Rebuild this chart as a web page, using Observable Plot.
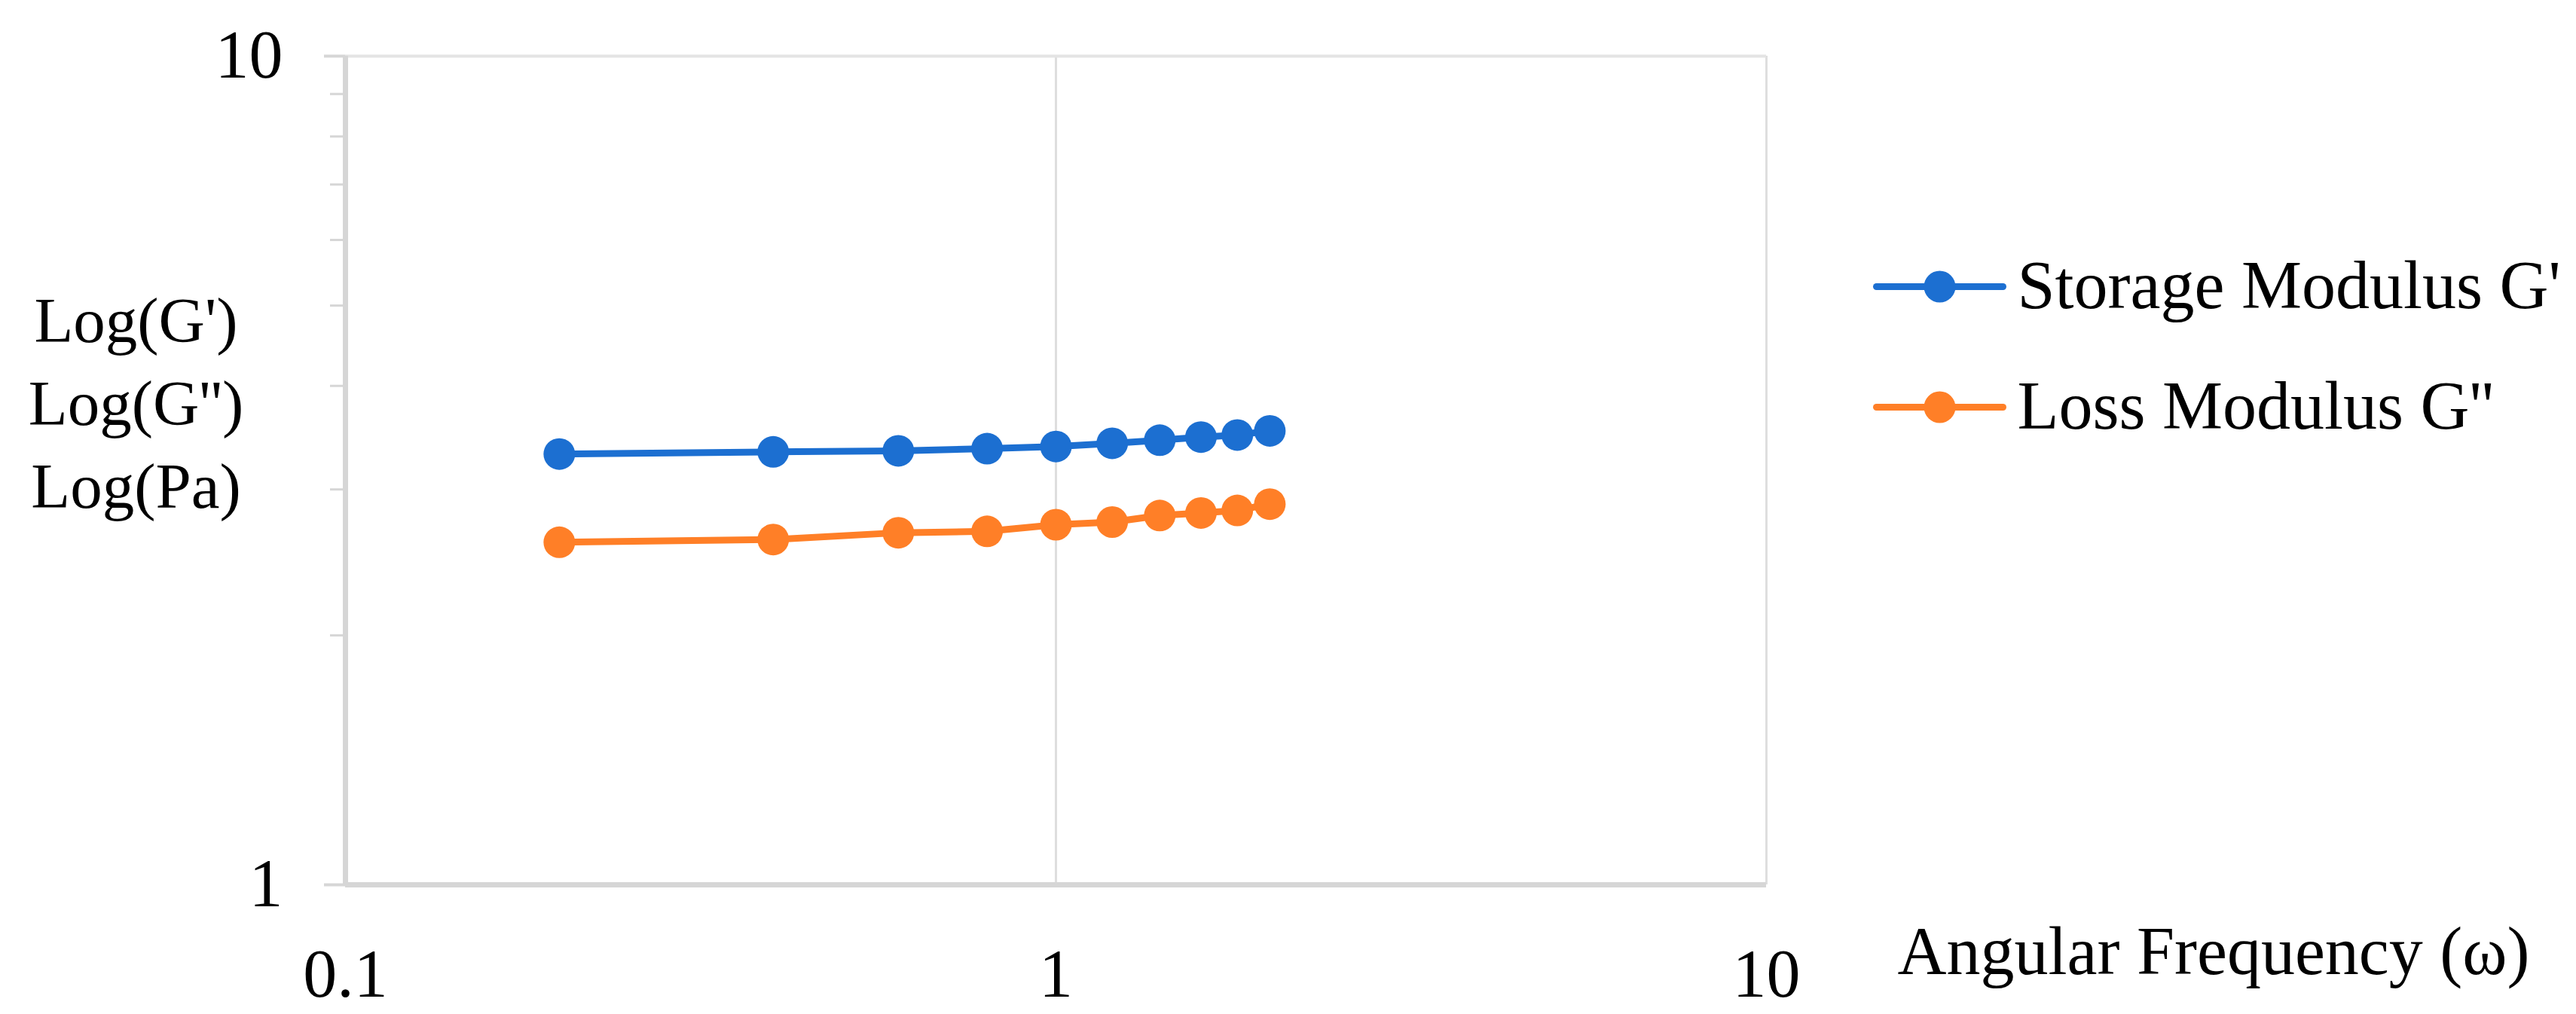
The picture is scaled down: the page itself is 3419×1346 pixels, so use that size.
<!DOCTYPE html>
<html><head><meta charset="utf-8">
<script src="https://cdn.jsdelivr.net/npm/d3@7"></script>
<script src="https://cdn.jsdelivr.net/npm/@observablehq/plot@0.6"></script>
<style>html,body{margin:0;padding:0;background:#fff;overflow:hidden}#chart svg{display:block}</style>
</head><body><div id="chart"></div>
<script>
// ---- data ----
const omega = [0.2, 0.4, 0.6, 0.8, 1.0, 1.2, 1.4, 1.6, 1.8, 2.0];
const storageG = [3.31, 3.33, 3.34, 3.36, 3.38, 3.41, 3.44, 3.47, 3.49, 3.53];
const lossG = [2.59, 2.61, 2.66, 2.67, 2.72, 2.74, 2.79, 2.81, 2.83, 2.88];
const seriesNames = ["Storage Modulus G'", "Loss Modulus G''"];
const seriesColors = ["#1c6fd1", "#ff7f27"];
const xTicks = [0.1, 1, 10];
const xTickLabels = ["0.1", "1", "10"];
const xGrid = [1, 10];
const yTicks = [1, 10];
const yTickLabels = ["1", "10"];
const yMinorTicks = [2, 3, 4, 5, 6, 7, 8, 9];
const yTitleLines = ["Log(G')", "Log(G'')", "Log(Pa)"];
const xTitle = "Angular Frequency (\u03c9)";

const rows = [];
omega.forEach((w, i) => {
  rows.push({series: seriesNames[0], omega: w, value: storageG[i]});
  rows.push({series: seriesNames[1], omega: w, value: lossG[i]});
});

const font = '"Palatino Linotype","Book Antiqua",Palatino,"Liberation Serif","DejaVu Serif",serif';
const axisGray = "#d6d6d6";
const gridGray = "#dedede";
const legendLine = {draw(ctx) { ctx.moveTo(-84, 0); ctx.lineTo(84, 0); }};

const legendMarks = [];
seriesNames.forEach((name, i) => {
  legendMarks.push(Plot.dot([name], {frameAnchor: "top-right", dx: 230, dy: 306 + 160 * i, symbol: legendLine, stroke: seriesColors[i], strokeWidth: 9, strokeLinecap: "round", fill: "none"}));
  legendMarks.push(Plot.dot([name], {frameAnchor: "top-right", dx: 230, dy: 306 + 160 * i, r: 21, fill: seriesColors[i], stroke: "none"}));
  legendMarks.push(Plot.text([name], {frameAnchor: "top-right", dx: 333, dy: 306 + 160 * i, text: d => d, textAnchor: "start", lineAnchor: "middle", fontSize: 90, fill: "#000"}));
});

const chart = Plot.plot({
  width: 3419,
  height: 1346,
  marginTop: 74,
  marginBottom: 172,
  marginLeft: 458,
  marginRight: 1075,
  style: {fontFamily: font, fontSize: "90px", color: "#000", background: "#fff"},
  x: {type: "log", domain: [0.1, 10], label: null},
  y: {type: "log", domain: [1, 10], label: null},
  color: {domain: seriesNames, range: seriesColors},
  marks: [
    Plot.ruleX(xGrid, {stroke: gridGray, strokeWidth: 3}),
    Plot.ruleY([10], {stroke: "#e4e4e4", strokeWidth: 4}),
    Plot.axisY({ticks: yMinorTicks, tickSize: 20, tickFormat: () => "", stroke: axisGray, strokeWidth: 3, label: null}),
    Plot.axisY({ticks: yTicks, tickSize: 28, tickFormat: () => "", stroke: axisGray, strokeWidth: 4, label: null}),
    Plot.axisY({ticks: yTicks, tickSize: 0, tickPadding: 83, tickFormat: d => yTickLabels[yTicks.indexOf(d)], fontSize: 90, label: null}),
    Plot.ruleX([0.1], {stroke: axisGray, strokeWidth: 7}),
    Plot.ruleY([1], {stroke: axisGray, strokeWidth: 7}),
    Plot.axisX({ticks: xTicks, tickSize: 0, tickPadding: 85, tickFormat: d => xTickLabels[xTicks.indexOf(d)], fontSize: 90, label: null}),
    Plot.line(rows, {x: "omega", y: "value", z: "series", stroke: "series", strokeWidth: 9}),
    Plot.dot(rows, {x: "omega", y: "value", fill: "series", r: 21}),
    Plot.text([yTitleLines.join("\n")], {frameAnchor: "left", text: d => d, textAnchor: "middle", lineAnchor: "middle", lineHeight: 110 / 85, fontSize: 85, dx: -278, dy: -96, fill: "#000"}),
    Plot.text([xTitle], {frameAnchor: "bottom-right", text: d => d, textAnchor: "start", lineAnchor: "middle", fontSize: 90, dx: 174, dy: 90, fill: "#000"}),
    ...legendMarks
  ]
});
document.getElementById("chart").append(chart);
</script>
</body></html>
